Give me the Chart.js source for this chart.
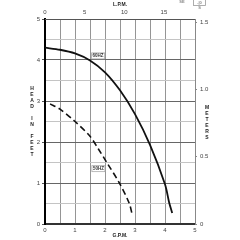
<!DOCTYPE html>
<html>
<head>
<meta charset="utf-8">
<style>
  html, body { margin: 0; padding: 0; background: #fff; }
  #wrap { width: 240px; height: 240px; }
</style>
<script src="https://cdn.jsdelivr.net/npm/chart.js@4/dist/chart.umd.min.js"></script>
</head>
<body>
<div id="wrap"><canvas id="pumpChart" width="240" height="240"></canvas></div>
<script>
// pump curves (G.P.M. vs head in feet)
const gpm60 = [0, 0.5, 1.0, 1.5, 2.0, 2.5, 3.0, 3.5, 4.0, 4.14, 4.24];
const head60 = [4.3, 4.25, 4.16, 3.99, 3.7, 3.26, 2.68, 1.93, 0.97, 0.52, 0.27];

const gpm50 = [0.17, 0.5, 1.0, 1.5, 1.78, 2.06, 2.48, 2.81, 2.91];
const head50 = [2.93, 2.8, 2.5, 2.14, 1.83, 1.5, 1.0, 0.5, 0.22];

const curveNames = ['60HZ', '50HZ'];
const curveLabelAt = [[1.77, 4.1], [1.78, 1.35]];

const gpmMax = 5;
const feetMax = 5;
const lpmTicks = [0, 5, 10, 15];
const meterTicks = [0, 0.5, 1, 1.5];

const ctx = document.getElementById('pumpChart').getContext('2d');
const FONT = 'Liberation Sans, Arial, sans-serif';

function toPoints(xs, ys) {
    return xs.map((x, i) => ({ x: x, y: ys[i] }));
}

function isWhole(v) {
    return Math.abs(v - Math.round(v)) < 1e-6;
}

// axis titles, stacked letters, curve tags
const extras = {
    id: 'extras',
    afterDraw(chart) {
        const c = chart.ctx;
        const xs = chart.scales.x, ys = chart.scales.y;
        c.save();
        c.fillStyle = '#222';
        c.textAlign = 'center';
        c.textBaseline = 'middle';
        c.font = 'bold 5px ' + FONT;
        c.fillText('L.P.M.', 120, 5);
        c.fillText('G.P.M.', 120, 236);

        const head = 'HEAD IN FEET';
        for (let i = 0; i < head.length; i++) {
            c.fillText(head[i], 32, 89 + i * 6);
        }
        const met = 'METERS';
        for (let i = 0; i < met.length; i++) {
            c.fillText(met[i], 207, 108 + i * 6);
        }

        // little mark in the corner
        c.fillStyle = '#888';
        c.font = 'bold 4px ' + FONT;
        c.fillText('SE', 182, 2);
        c.strokeStyle = '#999';
        c.lineWidth = 0.8;
        c.strokeRect(193.5, -1, 12, 6.5);
        c.fillText('-|0', 199.5, 2.5);
        c.fillText('S', 199.5, 7.5);

        // curve tags
        c.font = 'bold 4.5px ' + FONT;
        curveNames.forEach((name, i) => {
            const px = xs.getPixelForValue(curveLabelAt[i][0]);
            const py = ys.getPixelForValue(curveLabelAt[i][1]);
            const w = 13, h = 6;
            c.fillStyle = '#fff';
            c.fillRect(px - w / 2, py - h / 2, w, h);
            c.strokeStyle = '#aaa';
            c.lineWidth = 0.8;
            c.strokeRect(px - w / 2, py - h / 2, w, h);
            c.fillStyle = '#333';
            c.fillText(name, px, py + 0.3);
        });
        c.restore();
    }
};

const tickFont = { family: FONT, size: 6 };

new Chart(ctx, {
    type: 'scatter',
    data: {
        datasets: [
            {
                label: curveNames[0],
                data: toPoints(gpm60, head60),
                showLine: true,
                borderColor: '#111',
                borderWidth: 1.8,
                pointRadius: 0,
                tension: 0.3,
                xAxisID: 'x',
                yAxisID: 'y'
            },
            {
                label: curveNames[1],
                data: toPoints(gpm50, head50),
                showLine: true,
                borderColor: '#111',
                borderWidth: 1.6,
                borderDash: [6, 3.5],
                pointRadius: 0,
                tension: 0.3,
                xAxisID: 'x',
                yAxisID: 'y'
            }
        ]
    },
    options: {
        responsive: false,
        animation: false,
        layout: { padding: 0 },
        plugins: {
            legend: { display: false },
            tooltip: { enabled: false }
        },
        scales: {
            x: {
                type: 'linear',
                position: 'bottom',
                min: 0,
                max: gpmMax,
                afterFit(s) { s.height = 16; },
                ticks: {
                    stepSize: 0.5,
                    font: tickFont,
                    color: '#444',
                    padding: 3,
                    maxRotation: 0,
                    autoSkip: false,
                    callback: v => isWhole(v) ? String(Math.round(v)) : ''
                },
                grid: { color: '#959595', lineWidth: 1, drawTicks: false },
                border: { color: '#333', width: 2 }
            },
            y: {
                type: 'linear',
                position: 'left',
                min: 0,
                max: feetMax,
                afterFit(s) { s.width = 45; },
                ticks: {
                    stepSize: 0.5,
                    font: tickFont,
                    color: '#444',
                    padding: 2,
                    autoSkip: false,
                    callback: v => isWhole(v) ? String(Math.round(v)) : ''
                },
                grid: {
                    color: c => isWhole(c.tick.value) ? '#666' : '#c4c4c4',
                    lineWidth: 1,
                    tickLength: 3,
                    tickColor: c => isWhole(c.tick.value) ? '#555' : 'rgba(0,0,0,0)'
                },
                border: { color: '#000', width: 2 }
            },
            x2: {
                type: 'linear',
                position: 'top',
                min: 0,
                max: gpmMax * 3.7854,
                afterFit(s) { s.height = 19; },
                afterBuildTicks(s) { s.ticks = lpmTicks.map(v => ({ value: v })); },
                ticks: { font: tickFont, color: '#444', padding: 3, maxRotation: 0 },
                grid: { display: false, drawTicks: false },
                border: { color: '#555', width: 1 }
            },
            y2: {
                type: 'linear',
                position: 'right',
                min: 0,
                max: feetMax * 0.3048,
                afterFit(s) { s.width = 45; },
                afterBuildTicks(s) { s.ticks = meterTicks.map(v => ({ value: v })); },
                ticks: { font: tickFont, color: '#444', padding: 3 },
                grid: { drawOnChartArea: false, tickLength: 2, tickColor: '#888' },
                border: { color: '#888', width: 1 }
            }
        }
    },
    plugins: [extras]
});
</script>
</body>
</html>
